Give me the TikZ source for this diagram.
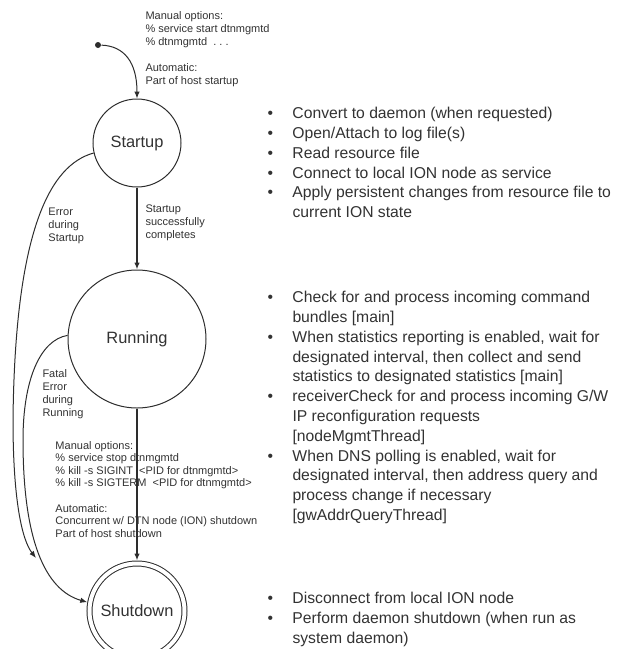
\documentclass[tikz,border=0pt]{standalone}
\usepackage{fontspec}
\setmainfont{Liberation Sans}
\usetikzlibrary{arrows.meta,positioning}
\definecolor{inkgray}{RGB}{45,45,45}
\definecolor{textgray}{RGB}{50,50,50}
\newcommand{\itm}{\makebox[25pt][l]{\textbullet}}
\newcommand{\cnt}{\hspace*{25pt}}

\begin{document}
\begin{tikzpicture}[x=1pt,y=-1pt,>={Latex[length=7pt,width=5.5pt]},line width=1pt,color=inkgray,
                    phase/.style={circle,draw,inner sep=0pt,text=textgray,font=\fontsize{16.4}{19}\selectfont},
                    note/.style={anchor=north west,align=left,inner sep=0pt,text=textgray,font=\fontsize{11}{13}\selectfont},
                    list/.style={anchor=north west,align=left,inner sep=0pt,text=textgray,font=\fontsize{15.7}{19.8}\selectfont}]
      \useasboundingbox (0,0) rectangle (634,649);
      \clip (0,0) rectangle (634,649);

      \node[phase,minimum size=88pt] (startup) at (137,143) {Startup};
      \node[phase,minimum size=138pt] (running) [below=82pt of startup] {Running};
      \node[phase,minimum size=95pt,double,double distance=4pt,outer sep=3pt] (shutdown) [below=152pt of running] {Shutdown};
      \node[circle,fill=inkgray,inner sep=0pt,minimum size=6pt] (startdot) at (98,45) {};
      \coordinate (errend) at (36,558);

      % notes on the transitions
      \node[note] (startnote) at (145,10.7) {Manual options:\\ \% service start dtnmgmtd\\ \% dtnmgmtd\ \ .\ .\ .\\[13pt] Automatic:\\ Part of host startup};
      \node[note] (okstart) at (145,204.7) {Startup\\ successfully\\ completes};
      \node[note] (errstart) at (48,207.7) {Error\\ during\\ Startup};
      \node[note] (errrun) at (42,368.7) {Fatal\\ Error\\ during\\ Running};
      \node[note,font=\fontsize{11}{12.6}\selectfont] (stopnote) at (55,440.7) {Manual options:\\ \% service stop dtnmgmtd\\ \% kill -s SIGINT\ \ <PID for dtnmgmtd>\\ \% kill -s SIGTERM\ \ <PID for dtnmgmtd>\\[12.6pt] Automatic:\\ Concurrent w/ DTN node (ION) shutdown\\ Part of host shutdown};

      % what each state does
      \node[list] (startlist) at (267,106.8) {\itm Convert to daemon (when requested)\\ \itm Open/Attach to log file(s)\\ \itm Read resource file\\ \itm Connect to local ION node as service\\ \itm Apply persistent changes from resource file to\\ \cnt current ION state};
      \node[list] (runlist) at (267,290.8) {\itm Check for and process incoming command\\ \cnt bundles [main]\\ \itm When statistics reporting is enabled, wait for\\ \cnt designated interval, then collect and send\\ \cnt statistics to designated statistics [main]\\ \itm receiverCheck for and process incoming G/W\\ \cnt IP reconfiguration requests\\ \cnt [nodeMgmtThread]\\ \itm When DNS polling is enabled, wait for\\ \cnt designated interval, then address query and\\ \cnt process change if necessary\\ \cnt [gwAddrQueryThread]};
      \node[list] (stoplist) at (267,591.8) {\itm Disconnect from local ION node\\ \itm Perform daemon shutdown (when run as\\ \cnt system daemon)};

      \draw[->] (startdot) .. controls (124,46) and (137,62) .. (startup);
      \path[->,line width=1.4pt]
        (startup) edge (running)
        (running) edge (shutdown);
      \draw[->] (startup.193) .. controls (50,165) and (15,230) .. (13,420) .. controls (13,500) and (22,540) .. (errend);
      \draw[->] (running.177) .. controls (40,340) and (23,380) .. (23,440) .. controls (23,540) and (45,590) .. (shutdown.170);
    \end{tikzpicture}
\end{document}
